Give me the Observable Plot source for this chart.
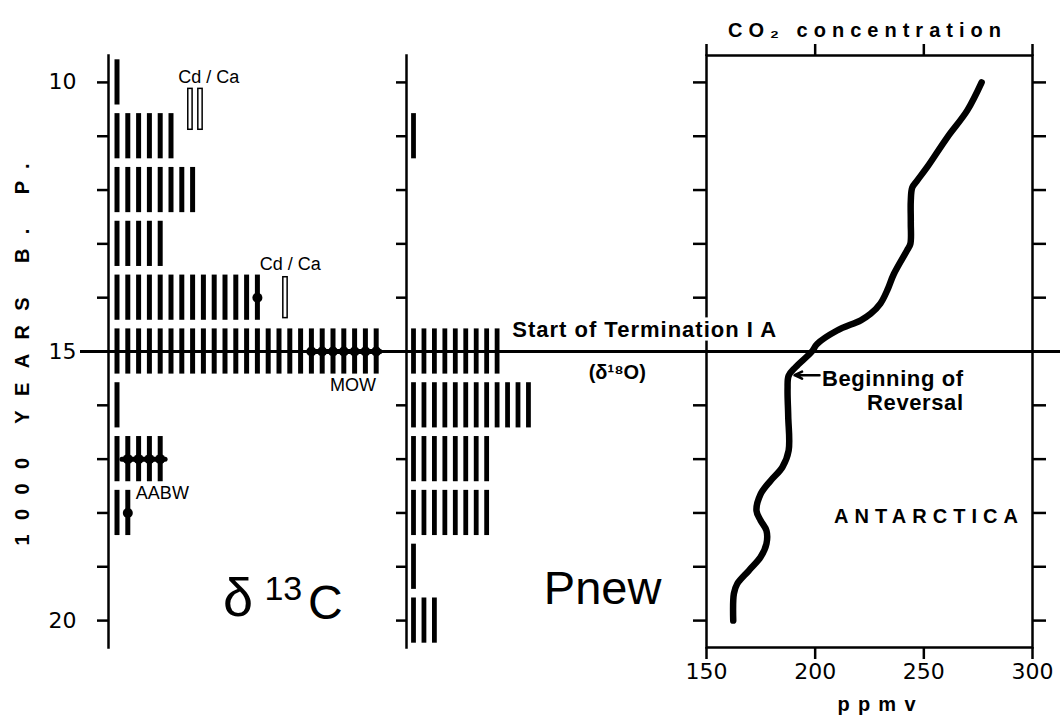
<!DOCTYPE html>
<html><head><meta charset="utf-8">
<script src="https://cdn.jsdelivr.net/npm/d3@7"></script>
<script src="https://cdn.jsdelivr.net/npm/@observablehq/plot@0.6"></script>
<style>
body{margin:0;background:#fff;}
#chart{position:relative;width:1060px;height:722px;overflow:hidden;background:#fff;}
#chart svg{position:absolute;left:0;top:0;}
</style></head><body><div id="chart"></div>
<script>
// ---------------- data ----------------
const yearTicks = [10, 11, 12, 13, 14, 15, 16, 17, 18, 19, 20];
const yearLabels = [10, 15, 20];

// delta 13C panel: number of records (bars) per 1000-yr row
const d13cYears = [10, 11, 12, 13, 14, 15, 16, 17, 18];
const d13cCounts = [1, 6, 8, 5, 14, 25, 1, 5, 2];

// Pnew panel
const pnewYears = [11, 15, 16, 17, 18, 19, 20];
const pnewCounts = [1, 9, 12, 8, 8, 1, 3];

// Cd/Ca records (open bars)
const cdcaYears = [10.5, 10.5, 14];
const cdcaPos = [6.8, 7.73, 15.6];

// water-mass tracer dots and connecting segments (delta 13C panel)
const tracerDotYears = [14, 15, 15, 15, 15, 15, 15, 15, 17, 17, 17, 17, 18];
const tracerDotPos = [13, 18, 19, 20, 21, 22, 23, 24, 1, 2, 3, 4, 1];
const tracerSegYears = [15, 17];
const tracerSegFrom = [17.8, 0.5];
const tracerSegTo = [24.4, 4.5];

// Antarctic CO2 record
const co2Years = [10.0, 10.52, 11.02, 11.57, 11.82, 11.95, 12.2, 12.6, 13.0, 13.12, 13.56, 13.87, 14.11, 14.3, 14.42, 14.61, 14.86, 15.0, 15.29, 15.45, 15.7, 16.2, 16.84, 17.15, 17.4, 17.65, 17.96, 18.14, 18.33, 18.57, 18.82, 19.07, 19.32, 19.5, 20.0];
const co2Ppm = [276.6, 270, 260.8, 251.6, 247, 244.7, 244, 244, 243.8, 242.3, 236.2, 233.1, 230, 225.5, 221, 210.1, 200.9, 198.5, 191, 187.8, 187.3, 187.6, 187.8, 184.9, 179.5, 174.9, 173, 174.9, 177.6, 177.6, 174.9, 169.5, 164.1, 162.6, 162.3];
const co2Ticks = [150, 200, 250, 300];

const terminationYear = 15;

// ---------------- build tables ----------------
const d13cBars = d13cYears.flatMap((yr, k) => d3.range(d13cCounts[k]).map(i => ({year: yr, pos: i})));
const pnewBars = pnewYears.flatMap((yr, k) => d3.range(pnewCounts[k]).map(i => ({year: yr, pos: i})));
const cdca = cdcaYears.map((yr, k) => ({year: yr, pos: cdcaPos[k]}));
const tracerDots = tracerDotYears.map((yr, k) => ({year: yr, pos: tracerDotPos[k]}));
const tracerSegs = tracerSegYears.map((yr, k) => ({year: yr, from: tracerSegFrom[k], to: tracerSegTo[k]}));
const co2 = co2Years.map((yr, k) => ({year: yr, ppm: co2Ppm[k]}));

// ---------------- layout ----------------
const W = 1060, H = 722, MT = 55, MB = 75;
const SANS = "'Liberation Sans', Arial, Helvetica, sans-serif";
const NUM = "'DejaVu Sans', 'Liberation Sans', sans-serif";
const baseStyle = {background: "transparent", overflow: "visible", fontFamily: SANS, color: "black"};
const yOpt = {domain: [9.5, 20.5], reverse: true, axis: null};
const chart = document.getElementById("chart");

function pick(svg, test) {
  return d3.select(svg).selectAll("text").filter(function () { return test(this.textContent); });
}
function fit(svg, txt, len) {
  pick(svg, t => t === txt).attr("textLength", len).attr("lengthAdjust", "spacing");
}
function spaced(svg, txt, ls) {
  pick(svg, t => t.includes(txt)).style("letter-spacing", ls + "px");
}

// ---- CO2 panel ----
const plotC = Plot.plot({
  width: W, height: H, marginTop: MT, marginBottom: MB, marginLeft: 706, marginRight: 28,
  style: baseStyle,
  x: {domain: [150, 300], axis: null},
  y: yOpt,
  marks: [
    Plot.frame({strokeWidth: 2.5}),
    Plot.axisX({anchor: "bottom", ticks: co2Ticks, tickSize: 12, tickPadding: 4, strokeWidth: 2.5, fontSize: 22, fontFamily: NUM, label: null}),
    Plot.axisX({anchor: "top", ticks: co2Ticks, tickSize: 12, strokeWidth: 2.5, tickFormat: () => "", label: null}),
    Plot.axisY({anchor: "left", ticks: yearTicks, tickSize: 13, strokeWidth: 2.5, tickFormat: () => "", label: null}),
    Plot.axisY({anchor: "right", ticks: yearTicks, tickSize: 13, strokeWidth: 2.5, tickFormat: () => "", label: null}),
    Plot.line(co2, {x: "ppm", y: "year", curve: "catmull-rom", strokeWidth: 6.5, strokeLinecap: "round", strokeLinejoin: "round"}),
    Plot.arrow([{x1: 202, x2: 190.5, y: 15.44}], {x1: "x1", x2: "x2", y1: "y", y2: "y", strokeWidth: 2.5, headLength: 9, headAngle: 50}),
    Plot.text(["Beginning of\nReversal"], {x: 268.3, y: 15.72, textAnchor: "end", fontWeight: "bold", fontSize: 22, lineHeight: 1.1}),
    Plot.text(["ANTARCTICA"], {x: 251, y: 18.06, fontWeight: "bold", fontSize: 20}),
    Plot.text(["CO₂ concentration"], {frameAnchor: "top", dy: -33, dx: -5, fontWeight: "bold", fontSize: 20}),
    Plot.text(["ppmv"], {frameAnchor: "bottom", dy: 63, dx: 7, fontWeight: "bold", fontSize: 20})
  ]
});
fit(plotC, "ANTARCTICA", 184);
fit(plotC, "CO₂ concentration", 273);
fit(plotC, "ppmv", 78);
spaced(plotC, "Beginning", 0.6);
chart.appendChild(plotC);

// ---- delta 13C panel (with the shared time axis) ----
const plotA = Plot.plot({
  width: W, height: H, marginTop: MT, marginBottom: MB, marginLeft: 108, marginRight: W - 440,
  style: baseStyle,
  x: {domain: [0, 30], range: [116.5, 440.5], axis: null},
  y: yOpt,
  marks: [
    Plot.frame({anchor: "left", strokeWidth: 2.5}),
    Plot.axisY({anchor: "left", ticks: yearTicks, tickSize: 11, tickPadding: 21, strokeWidth: 2.5,
      tickFormat: d => yearLabels.includes(d) ? d : "", fontSize: 22, fontFamily: NUM, label: null}),
    Plot.text(["1000 YEARS B. P."], {frameAnchor: "left", textAnchor: "middle", dx: -86, dy: 3, rotate: -90, fontWeight: "bold", fontSize: 20}),
    Plot.ruleX(d13cBars, {x: "pos", y1: d => d.year - 0.42, y2: d => d.year + 0.42, strokeWidth: 5}),
    Plot.rect(cdca, {x1: d => d.pos - 0.2, x2: d => d.pos + 0.2, y1: d => d.year - 0.38, y2: d => d.year + 0.38, fill: "white", stroke: "black", strokeWidth: 1.5}),
    Plot.ruleY(tracerSegs, {y: "year", x1: "from", x2: "to", strokeWidth: 5, strokeLinecap: "round"}),
    Plot.dot(tracerDots, {x: "pos", y: "year", r: 5, fill: "black", stroke: "none"}),
    Plot.text(["Cd / Ca", "Cd / Ca"], {x: [8.5, 16.05], y: [9.9, 13.38], fontSize: 18}),
    Plot.text(["MOW", "AABW"], {x: [21.85, 4.2], y: [15.62, 17.63], fontSize: 18}),
    Plot.text(["δ"], {x: 11.2, y: 19.6, fontSize: 54}),
    Plot.text(["13"], {x: 15.4, y: 19.42, fontSize: 34}),
    Plot.text(["C"], {x: 19.3, y: 19.68, fontSize: 48})
  ]
});
fit(plotA, "1000 YEARS B. P.", 382);
chart.appendChild(plotA);

// ---- Pnew panel ----
const plotB = Plot.plot({
  width: W, height: H, marginTop: MT, marginBottom: MB, marginLeft: 406, marginRight: W - 730,
  style: baseStyle,
  x: {domain: [0, 30], range: [413, 726.5], axis: null},
  y: yOpt,
  marks: [
    Plot.frame({anchor: "left", strokeWidth: 2.5}),
    Plot.axisY({anchor: "left", ticks: yearTicks, tickSize: 10, strokeWidth: 2.5, tickFormat: () => "", label: null}),
    Plot.ruleX(pnewBars, {x: "pos", y1: d => d.year - 0.42, y2: d => d.year + 0.42, strokeWidth: 4.8}),
    Plot.text(["Pnew"], {x: 18.1, y: 19.42, fontSize: 47}),
    Plot.text(["Start of Termination I A"], {x: 9.45, y: 14.6, textAnchor: "start", fontWeight: "bold", fontSize: 22, stroke: "white", strokeWidth: 7, paintOrder: "stroke", fill: "black"}),
    Plot.text(["(δ¹⁸O)"], {x: 19.5, y: 15.39, fontWeight: "bold", fontSize: 20})
  ]
});
spaced(plotB, "Start of Termination", 1);
chart.appendChild(plotB);

// ---- termination line across all panels ----
const plotD = Plot.plot({
  width: W, height: H, marginTop: MT, marginBottom: MB, marginLeft: 80, marginRight: 0,
  style: baseStyle,
  y: yOpt,
  marks: [Plot.ruleY([terminationYear], {strokeWidth: 3})]
});
chart.appendChild(plotD);
</script></body></html>
